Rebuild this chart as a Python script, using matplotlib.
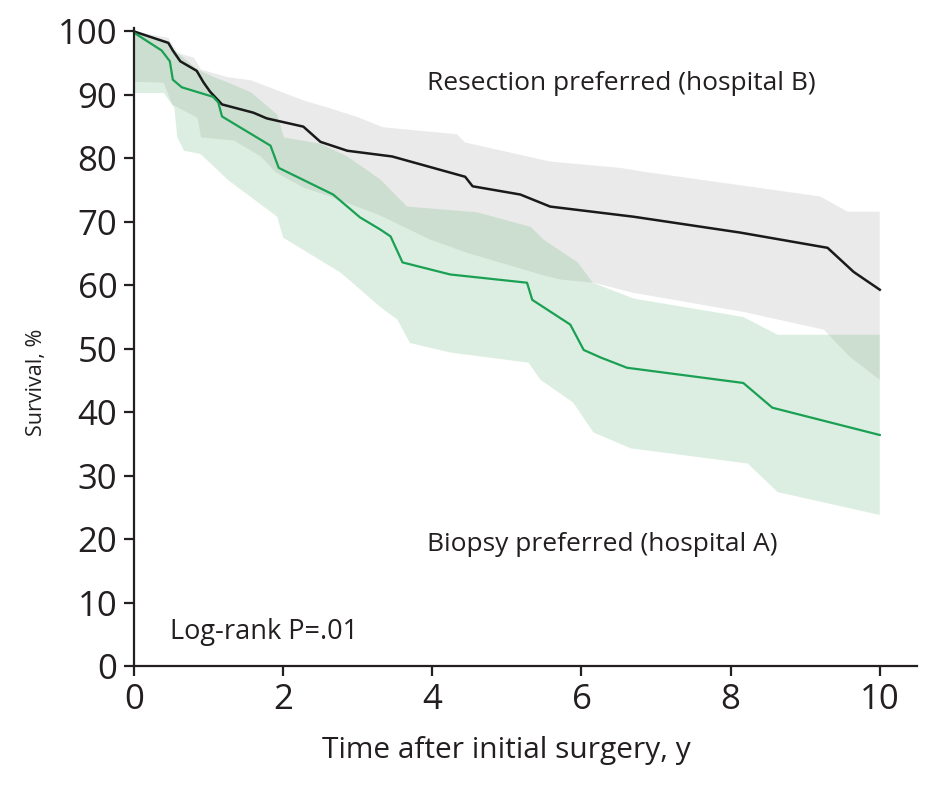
import matplotlib.pyplot as plt

plt.rcParams["font.family"] = ["Open Sans", "DejaVu Sans"]

# survival curves (years, %)
res_t = [0, 0.46, 0.52, 0.62, 0.84, 0.93, 1.02, 1.18, 1.6, 1.78, 2.27, 2.5, 2.86,
         3.46, 4.44, 4.54, 5.18, 5.58, 6.7, 8.13, 9.3, 9.65, 10]
res_s = [100, 98.2, 97, 95.3, 93.8, 92, 90.5, 88.5, 87.2, 86.3, 85, 82.6, 81.2,
         80.3, 77.1, 75.6, 74.3, 72.4, 70.8, 68.3, 65.9, 62.1, 59.3]

bio_t = [0, 0.37, 0.48, 0.52, 0.64, 1.06, 1.13, 1.18, 1.83, 1.94, 2.67, 3.03, 3.3,
         3.44, 3.6, 4.24, 5.27, 5.34, 5.85, 6.03, 6.26, 6.61, 8.17, 8.56, 10]
bio_s = [99.8, 97, 95.3, 92.4, 91.2, 89.7, 88.8, 86.6, 82, 78.5, 74.3, 70.7, 68.8,
         67.7, 63.6, 61.7, 60.4, 57.7, 53.8, 49.8, 48.6, 47, 44.6, 40.7, 36.4]

# confidence bands
res_up_t = [0, 0.46, 0.58, 0.8, 0.9, 1.25, 1.57, 2.28, 2.6, 3.0, 3.34, 4.33, 4.44,
            5.58, 6.52, 6.83, 9.2, 9.57, 10]
res_up_s = [100, 99, 96.6, 95.9, 94, 92.8, 92.3, 89.1, 88, 86.5, 84.9, 83.8, 82.5,
            79.5, 78.5, 77.9, 74, 71.6, 71.6]
res_lo_t = [0, 0.4, 0.51, 0.85, 0.9, 1.34, 1.7, 1.9, 2.27, 2.63, 3.3, 3.97, 4.47,
            5.45, 5.72, 6.16, 6.7, 8.17, 9.25, 9.6, 10]
res_lo_s = [92.1, 91.9, 88.5, 86.4, 83.3, 82.8, 80.3, 77.8, 75.4, 74, 71, 67.2, 65.1,
            61.7, 60.9, 60.4, 58.8, 55.8, 53, 48.7, 45.1]

bio_up_t = [0, 0.45, 0.55, 0.85, 1.07, 1.25, 1.57, 1.92, 2.01, 2.5, 2.86, 3.3, 3.66,
            4.6, 5.32, 5.49, 5.95, 6.15, 6.7, 8.17, 8.63, 10]
bio_up_s = [100, 98.5, 97, 94, 92.8, 92, 90.4, 86.9, 83.3, 82.3, 80.3, 76.7, 72.4,
            71.5, 69.2, 67.2, 63.6, 60.4, 57.9, 55, 52.2, 52.2]
bio_lo_t = [0, 0.4, 0.54, 0.58, 0.67, 0.89, 1.27, 1.92, 2.0, 2.77, 3.3, 3.53, 3.7,
            4.24, 5.29, 5.45, 5.89, 6.16, 6.66, 8.23, 8.63, 10]
bio_lo_s = [90.3, 90.3, 88, 83.3, 81.2, 80.7, 76.5, 70.8, 67.5, 62, 56.6, 54.6, 50.9,
            49.4, 47.8, 45.1, 41.5, 36.8, 34.3, 31.9, 27.4, 23.8]

fig = plt.figure(figsize=(9.4, 7.9), dpi=100)
ax = fig.add_axes([0.1426, 0.157, 0.833, 0.808])

# bands as polygons (upper edge out, lower edge back)
ax.fill(res_up_t + res_lo_t[::-1], res_up_s + res_lo_s[::-1],
        color="#c8c8c8", alpha=0.37, lw=0)
ax.fill(bio_up_t + bio_lo_t[::-1], bio_up_s + bio_lo_s[::-1],
        color="#64b478", alpha=0.22, lw=0)

ax.plot(res_t, res_s, color="#1a1a1a", lw=1.8)
ax.plot(bio_t, bio_s, color="#1aa053", lw=1.6)

txt = "#231f20"
ax.text(3.93, 91.8, "Resection preferred (hospital B)", fontsize=19,
        va="center", color=txt)
ax.text(3.93, 19.1, "Biopsy preferred (hospital A)", fontsize=19,
        va="center", color=txt)
ax.text(0.48, 5.3, "Log-rank P=.01", fontsize=19.5, va="center", color=txt)

ax.set_xlim(0, 10.5)
ax.set_ylim(0, 100.6)
ax.set_xticks([0, 2, 4, 6, 8, 10])
ax.set_yticks(range(0, 101, 10))
ax.tick_params(labelsize=25, width=1.6, length=7, pad=5, color=txt, labelcolor=txt)
for side in ["top", "right"]:
    ax.spines[side].set_visible(False)
for side in ["left", "bottom"]:
    ax.spines[side].set_linewidth(1.6)
    ax.spines[side].set_color(txt)

ax.set_xlabel("Time after initial surgery, y", fontsize=21.5, va="center", color=txt)
ax.xaxis.set_label_coords(0.475, -0.132)
ax.set_ylabel("Survival, %", fontsize=15.5, va="center", color=txt)
ax.yaxis.set_label_coords(-0.124, 0.445)

fig.savefig("out.png", dpi=100)
